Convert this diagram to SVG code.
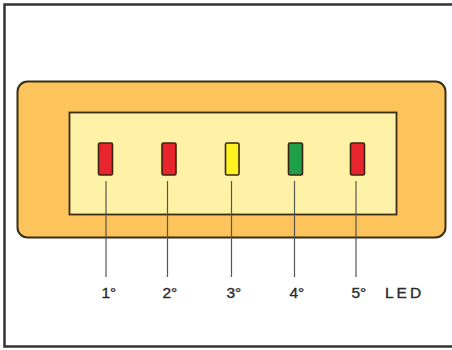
<svg xmlns="http://www.w3.org/2000/svg" width="452" height="350" viewBox="0 0 452 350">
  <style>
    .frame { fill: none; stroke: #333333; stroke-width: 2.5; }
    .case { fill: #FCC45A; stroke: #3B2C14; stroke-width: 2; }
    .panel { fill: #FFF2A6; stroke: #3B2C14; stroke-width: 1.8; }
    .led { stroke: #3B2410; stroke-width: 1.6; }
    .red { fill: #E8242C; }
    .yellow { fill: #FFF21E; }
    .green { fill: #1EA04A; }
    .lead { stroke: #555555; stroke-width: 1.2; fill: none; }
    .label { font-family: "Liberation Sans", Arial, sans-serif; font-size: 15.5px; fill: #2A2A2A; stroke: #2A2A2A; stroke-width: 0.35; }
  </style>

  <rect width="452" height="350" fill="#FFFFFF"/>
  <!-- outer frame (open on the right) -->
  <path class="frame" d="M454 4.5 H4.5 V346.5 H454"/>

  <!-- display housing -->
  <g id="housing">
    <rect class="case" x="17.5" y="81.5" width="428" height="156" rx="10" ry="10"/>
    <rect class="panel" x="69.5" y="112.5" width="327" height="102"/>
  </g>

  <!-- indicator lamps -->
  <g id="led1"><rect class="led red" x="98.5" y="143" width="14" height="32" rx="1.5"/></g>
  <g id="led2"><rect class="led red" x="162" y="143" width="14" height="32" rx="1.5"/></g>
  <g id="led3"><rect class="led yellow" x="225.5" y="143" width="13.5" height="32" rx="1.5"/></g>
  <g id="led4"><rect class="led green" x="288.5" y="143" width="14" height="32" rx="1.5"/></g>
  <g id="led5"><rect class="led red" x="350.5" y="143" width="14" height="32" rx="1.5"/></g>

  <!-- callout lines -->
  <g id="connectors">
    <line class="lead" x1="106" y1="181" x2="106" y2="277"/>
    <line class="lead" x1="167.5" y1="181" x2="167.5" y2="277"/>
    <line class="lead" x1="231.5" y1="181" x2="231.5" y2="277"/>
    <line class="lead" x1="294.5" y1="181" x2="294.5" y2="277"/>
    <line class="lead" x1="356" y1="181" x2="356" y2="277"/>
  </g>

  <!-- labels -->
  <g id="labels">
    <text class="label" x="101.5" y="298">1°</text>
    <text class="label" x="162.5" y="298">2°</text>
    <text class="label" x="226.5" y="298">3°</text>
    <text class="label" x="289.5" y="298">4°</text>
    <text class="label" x="351.5" y="298">5°</text>
    <text class="label" x="385" y="298" letter-spacing="3">LED</text>
  </g>
</svg>
